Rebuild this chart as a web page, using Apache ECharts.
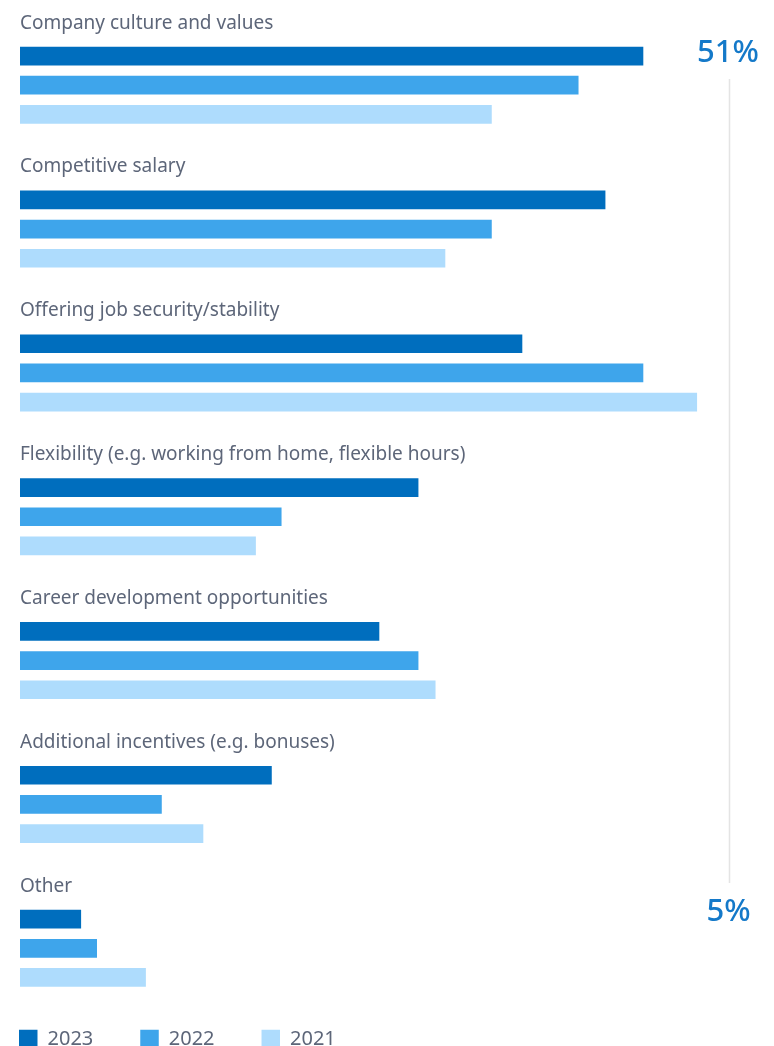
<!DOCTYPE html>
<html>
<head>
<meta charset="utf-8">
<script src="https://cdn.jsdelivr.net/npm/echarts@6/dist/echarts.min.js"></script>
<style>
  html, body { margin: 0; padding: 0; background: #ffffff; }
  #chart { width: 774px; height: 1046px; }
</style>
</head>
<body>
<div id="chart"></div>
<script>
// Reasons for choosing an employer, share of respondents (%) by survey year
const categories = [
  'Company culture and values',
  'Competitive salary',
  'Offering job security/stability',
  'Flexibility (e.g. working from home, flexible hours)',
  'Career development opportunities',
  'Additional incentives (e.g. bonuses)',
  'Other'
];
const years = ['2023', '2022', '2021'];
const values2023 = [51, 47.9, 41.1, 32.6, 29.4, 20.6, 5];
const values2022 = [45.7, 38.6, 51, 21.4, 32.6, 11.6, 6.3];
const values2021 = [38.6, 34.8, 55.4, 19.3, 34.0, 15.0, 10.3];

const colors = ['#006ebe', '#3ea5eb', '#aedcfd'];
const labelColor = '#5d6679';
const fontFamily = '"Noto Sans", "Open Sans", sans-serif';

const chart = echarts.init(document.getElementById('chart'), null, { renderer: 'canvas' });

// Scale: 0 at x=20, roughly 12.22 px per percentage point
const xMax = 60;
const gridLeft = 20;
const gridWidth = 733.3;

const seriesData = [values2023, values2022, values2021];

const series = years.map((y, i) => ({
  name: y,
  type: 'bar',
  data: seriesData[i],
  barWidth: 18.7,
  barGap: '56%',
  itemStyle: { color: colors[i] },
  silent: true,
  // the category name sits above each group's first bar
  label: i === 0 ? {
    show: true,
    position: [0, -23.5],
    align: 'left',
    verticalAlign: 'middle',
    formatter: p => p.name,
    color: labelColor,
    fontSize: 19,
    fontFamily: fontFamily
  } : { show: false }
}));

// Highest and lowest 2023 shares, shown at the ends of the range line
const topValue = values2023[0];
const bottomValue = values2023[values2023.length - 1];

chart.setOption({
  animation: false,
  backgroundColor: '#ffffff',
  grid: { left: gridLeft, width: gridWidth, top: 13.3, height: 1006.9 },
  xAxis: {
    type: 'value',
    min: 0,
    max: xMax,
    show: false
  },
  yAxis: {
    type: 'category',
    data: categories,
    inverse: true,
    show: false
  },
  legend: {
    data: years,
    left: 19,
    top: 1029,
    padding: 0,
    itemWidth: 18.5,
    itemHeight: 18.5,
    itemGap: 47,
    icon: 'rect',
    textStyle: {
      color: labelColor,
      fontSize: 20,
      fontFamily: fontFamily,
      padding: [0, 0, 0, 5]
    },
    selectedMode: false
  },
  graphic: [
    {
      type: 'line',
      shape: { x1: 729.5, y1: 79, x2: 729.5, y2: 883 },
      style: { stroke: '#e4e4e4', lineWidth: 1.5 },
      silent: true
    },
    {
      type: 'text',
      x: 728,
      y: 53.5,
      style: {
        text: Math.round(topValue) + '%',
        fill: '#1479c9',
        font: '500 31px ' + fontFamily,
        align: 'center',
        verticalAlign: 'middle'
      },
      silent: true
    },
    {
      type: 'text',
      x: 728.5,
      y: 912,
      style: {
        text: Math.round(bottomValue) + '%',
        fill: '#1479c9',
        font: '500 31px ' + fontFamily,
        align: 'center',
        verticalAlign: 'middle'
      },
      silent: true
    }
  ],
  series: series
});
</script>
</body>
</html>
